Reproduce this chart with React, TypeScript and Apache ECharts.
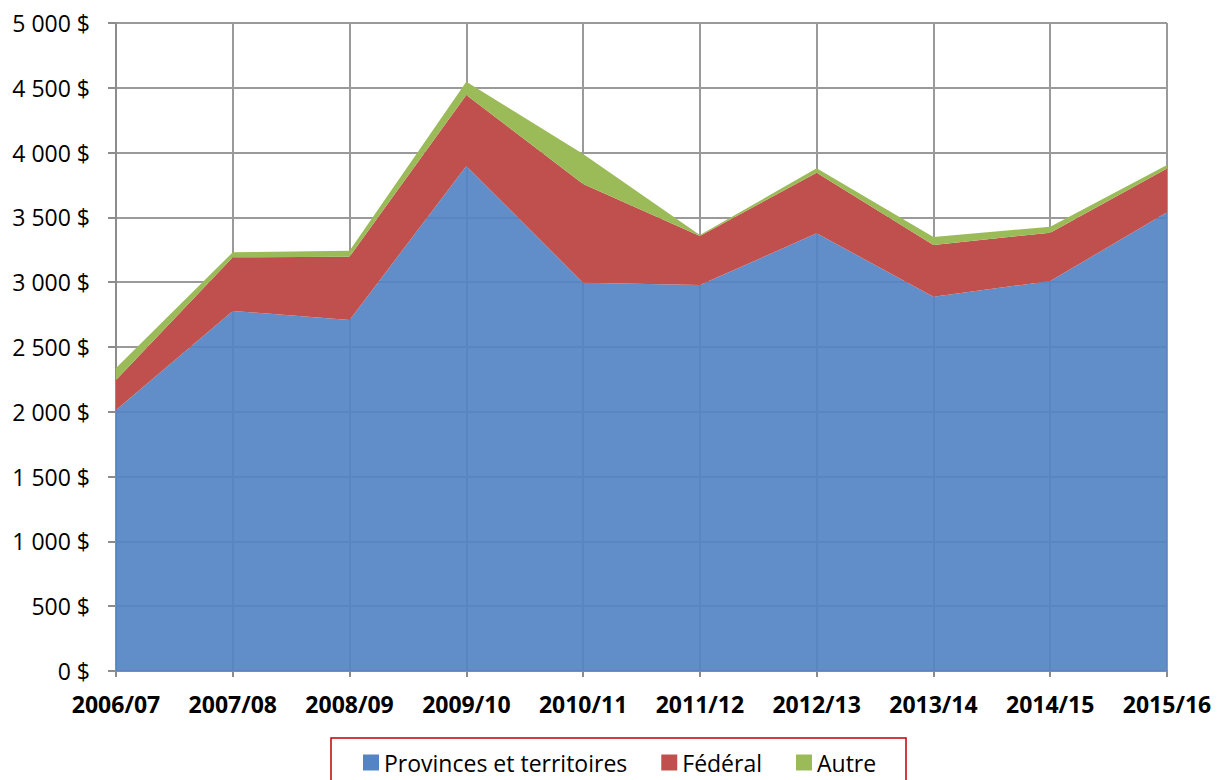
import React, { useEffect, useRef } from "react";
import * as echarts from "echarts";

const categories = ["2006/07", "2007/08", "2008/09", "2009/10", "2010/11", "2011/12", "2012/13", "2013/14", "2014/15", "2015/16"];
const provinces = [2014, 2778, 2708, 3897, 2996, 2978, 3377, 2888, 3009, 3539];
const federal = [231, 414, 489, 547, 762, 378, 468, 399, 373, 339];
const autre = [93, 39, 46, 103, 231, 8, 34, 62, 46, 26];
const seriesNames = ["Provinces et territoires", "Fédéral", "Autre"];

const fmt = (v: number) => {
  const s = String(Math.round(v));
  const withSpace = s.replace(/\B(?=(\d{3})+(?!\d))/g, " ");
  return withSpace + " $";
};

export default function App() {
  const ref = useRef<HTMLDivElement>(null);
  useEffect(() => {
    if (!ref.current) return;
    const chart = echarts.init(ref.current, undefined, { renderer: "svg" });
    const font = "'Open Sans', sans-serif";
    chart.setOption({
      animation: false,
      backgroundColor: "#ffffff",
      grid: { left: 116, right: 50, top: 23, bottom: 109, containLabel: false },
      xAxis: {
        type: "category",
        data: categories,
        boundaryGap: false,
        axisLine: { show: true, lineStyle: { color: "#8c8c8c", width: 2 } },
        axisTick: { show: true, interval: 0, alignWithLabel: true, length: 6, lineStyle: { color: "#8c8c8c", width: 2 } },
        axisLabel: { interval: 0, hideOverlap: false, color: "#000", fontSize: 23, fontWeight: "bold", fontFamily: font, margin: 21 },
        splitLine: { show: true, interval: 0, lineStyle: { color: "#9a9a9a", width: 2 } },
      },
      yAxis: {
        type: "value",
        min: 0,
        max: 5000,
        interval: 500,
        axisLine: { show: true, lineStyle: { color: "#8c8c8c", width: 2 } },
        axisTick: { show: true, length: 8, lineStyle: { color: "#8c8c8c", width: 2 } },
        axisLabel: { color: "#000", fontSize: 23, fontFamily: font, margin: 26, formatter: fmt },
        splitLine: { show: true, lineStyle: { color: "#9a9a9a", width: 2 } },
      },
      legend: {
        left: 358,
        top: 746,
        itemWidth: 16,
        itemHeight: 16,
        itemGap: 34,
        icon: "rect",
        textStyle: { color: "#000", fontSize: 23, fontFamily: font },
        data: seriesNames,
      },
      graphic: [
        {
          type: "rect",
          shape: { x: 331, y: 738, width: 575, height: 60 },
          style: { fill: "none", stroke: "#c00000", lineWidth: 1.5 },
          silent: true,
        },
      ],
      series: [
        {
          name: seriesNames[0],
          type: "line",
          stack: "total",
          data: provinces,
          symbol: "none",
          lineStyle: { width: 0 },
          itemStyle: { color: "#5484c4" },
          areaStyle: { color: "#5484c4", opacity: 0.92 },
        },
        {
          name: seriesNames[1],
          type: "line",
          stack: "total",
          data: federal,
          symbol: "none",
          lineStyle: { width: 0 },
          itemStyle: { color: "#c0504d" },
          areaStyle: { color: "#c0504d", opacity: 1 },
        },
        {
          name: seriesNames[2],
          type: "line",
          stack: "total",
          data: autre,
          symbol: "none",
          lineStyle: { width: 0 },
          itemStyle: { color: "#9bbb59" },
          areaStyle: { color: "#9bbb59", opacity: 1 },
        },
      ],
    });
    return () => chart.dispose();
  }, []);
  return <div ref={ref} style={{ position: "fixed", left: 0, top: 0, width: 1217, height: 780 }} />;
}
